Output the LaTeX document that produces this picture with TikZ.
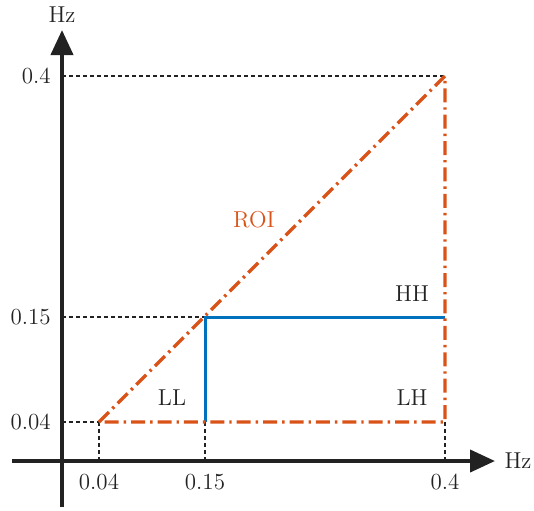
\documentclass[tikz,border=0pt]{standalone}
\usetikzlibrary{arrows.meta}
\definecolor{roi}{HTML}{D95319}
\definecolor{band}{HTML}{0072BD}
\definecolor{ax}{HTML}{222222}
\begin{document}
\begin{tikzpicture}[x=0.5pt,y=-0.5pt,
  every node/.style={font=\fontsize{11.5}{13}\selectfont},
  axis/.style={draw=ax,line width=2pt,-{Triangle[length=12.5pt,width=11pt]}},
  guide/.style={draw=ax,line width=0.8pt,dash pattern=on 2pt off 1.5pt},
  roiline/.style={draw=roi,line width=1.7pt,dash pattern=on 7pt off 2.5pt on 1.2pt off 2.5pt},
  bandline/.style={draw=band,line width=1.5pt},
  lbl/.style={text=ax,inner sep=1pt}]
\useasboundingbox (0,0) rectangle (534,510);
% points
\coordinate (O) at (62,461);
\coordinate (A) at (99,422);
\coordinate (B) at (205,317);
\coordinate (C) at (445,76);
\coordinate (D) at (445,422);
\coordinate (E) at (205,422);
\coordinate (Y4) at (62,76);
\coordinate (Y15) at (62,317);
\coordinate (Y04) at (62,422);
\coordinate (X04) at (99,461);
\coordinate (X15) at (205,461);
\coordinate (X4) at (445,461);
\coordinate (ybot) at (62,507);
\coordinate (ytop) at (62,30);
\coordinate (xl) at (12,461);
\coordinate (xr) at (495,461);
% guides
\draw[guide] (Y4) -- (C);
\draw[guide] (Y15) -- (B);
\draw[guide] (Y04) -- (A);
\draw[guide] (A) -- (X04);
\draw[guide] (E) -- (X15);
\draw[guide] (D) -- (X4);
% axes
\draw[axis] (ybot) -- (ytop);
\draw[axis] (xl) -- (xr);
% bands
\draw[bandline] (E) -- (B) -- (C |- B);
% ROI
\draw[roiline,line join=round] (A) -- (C) -- (D) -- cycle;
% labels
\node[lbl] (hzy) at (62,15) {Hz};
\node[lbl] (hzx) at (518,461) {Hz};
\node[lbl,anchor=east] (l4) at (53,76) {0.4};
\node[lbl,anchor=east] (l15) at (53,317) {0.15};
\node[lbl,anchor=east] (l04) at (53,422) {0.04};
\node[lbl] (b04) at (99,482) {0.04};
\node[lbl] (b15) at (205,482) {0.15};
\node[lbl] (b4) at (445,482) {0.4};
\node[text=roi,inner sep=1pt] (roi) at (254,220) {ROI};
\node[lbl] (hh) at (412,294) {HH};
\node[lbl] (ll) at (172,398) {LL};
\node[lbl] (lh) at (412,398) {LH};
\end{tikzpicture}
\end{document}
